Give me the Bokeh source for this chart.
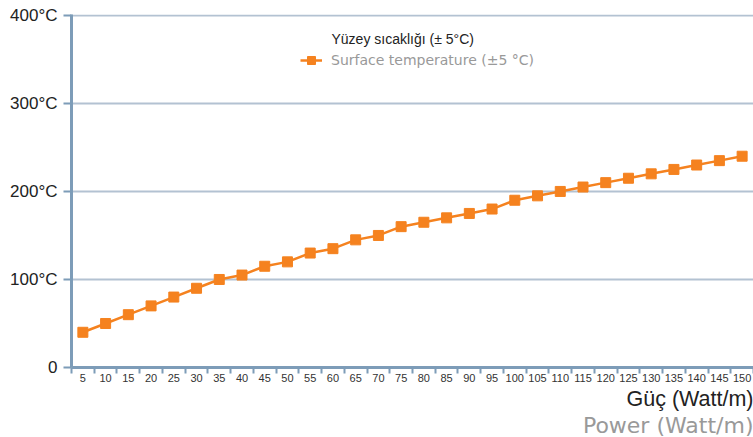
from bokeh.plotting import figure
from bokeh.models import FixedTicker, Range1d, Legend, LegendItem, Label, Title
from bokeh.embed import file_html
from bokeh.resources import INLINE

power = [5, 10, 15, 20, 25, 30, 35, 40, 45, 50, 55, 60, 65, 70, 75,
         80, 85, 90, 95, 100, 105, 110, 115, 120, 125, 130, 135, 140, 145, 150]
temperature = [40, 50, 60, 70, 80, 90, 100, 105, 115, 120, 130, 135, 145, 150, 160,
               165, 170, 175, 180, 190, 195, 200, 205, 210, 215, 220, 225, 230, 235, 240]
y_ticks = [0, 100, 200, 300, 400]
y_tick_labels = ["0", "100°C", "200°C", "300°C", "400°C"]

legend_title = "Yüzey sıcaklığı (± 5°C)"
series_name = "Surface temperature (±5 °C)"
x_title_tr = "Güç (Watt/m)"
x_title_en = "Power (Watt/m)"

FONT = "Liberation Sans"
FONT2 = "DejaVu Sans"
ORANGE = "#f5821f"
AXIS = "#7d9cb8"
GRID = "#b3c2d2"

step = power[1] - power[0]
x_start = power[0] - step / 2
x_end = power[-1] + step / 2
boundaries = [p - step / 2 for p in power] + [x_end]

W, H = 753, 437
LEFT, TOP = 71, 14
p = figure(width=W, height=H, output_backend="svg", toolbar_location=None,
           x_range=Range1d(x_start, x_end), y_range=Range1d(0, 401),
           min_border_left=LEFT, min_border_right=0, min_border_top=TOP,
           min_border_bottom=0)
p.outline_line_color = None
p.xgrid.grid_line_color = None
p.ygrid.grid_line_color = GRID
p.ygrid.grid_line_width = 2
p.ygrid.ticker = FixedTicker(ticks=y_ticks[1:])

# x axis
p.xaxis.ticker = FixedTicker(ticks=power, minor_ticks=boundaries)
p.xaxis.axis_line_color = AXIS
p.xaxis.axis_line_width = 3
p.xaxis.major_tick_line_color = None
p.xaxis.major_tick_out = 0
p.xaxis.minor_tick_line_color = AXIS
p.xaxis.minor_tick_line_width = 2
p.xaxis.minor_tick_out = 6
p.xaxis.minor_tick_in = 0
p.xaxis.major_label_text_font = FONT
p.xaxis.major_label_text_font_size = "11px"
p.xaxis.major_label_text_color = "#333333"
p.xaxis.major_label_standoff = 0

# y axis
p.yaxis.ticker = FixedTicker(ticks=y_ticks)
p.yaxis.major_label_overrides = {t: l for t, l in zip(y_ticks, y_tick_labels)}
p.yaxis.axis_line_color = AXIS
p.yaxis.axis_line_width = 3
p.yaxis.major_tick_line_color = AXIS
p.yaxis.major_tick_line_width = 2
p.yaxis.major_tick_out = 8
p.yaxis.major_tick_in = 0
p.yaxis.minor_tick_line_color = None
p.yaxis.major_label_text_font = FONT
p.yaxis.major_label_text_font_size = "17px"
p.yaxis.major_label_text_color = "#222222"
p.yaxis.major_label_standoff = 6

line = p.line(power, temperature, line_color=ORANGE, line_width=2.5)
sq = p.scatter(power, temperature, marker="square", size=10,
               fill_color=ORANGE, line_color=ORANGE)

legend = Legend(items=[LegendItem(label=series_name, renderers=[line, sq])],
                location=(229, 297), orientation="vertical",
                border_line_color=None, background_fill_alpha=0,
                padding=0, margin=0, spacing=0,
                glyph_width=22, glyph_height=20, label_standoff=9,
                label_text_font=FONT2, label_text_font_size="14px",
                label_text_color="#999999")
p.add_layout(legend, "center")

p.add_layout(Label(x=260, y=329, x_units="screen", y_units="screen",
                   text=legend_title, text_font=FONT, text_font_size="14px",
                   text_color="#222222", text_baseline="middle"))

t1 = Title(text=x_title_tr, align="right", text_font=FONT, text_font_size="21.5px",
           text_font_style="normal", text_color="#222222", standoff=0)
t2 = Title(text=x_title_en, align="right", text_font=FONT2, text_font_size="22px",
           text_font_style="normal", text_color="#999999", standoff=0)
p.add_layout(t1, "below")
p.add_layout(t2, "below")

open("out.html", "w").write(file_html(p, INLINE))
